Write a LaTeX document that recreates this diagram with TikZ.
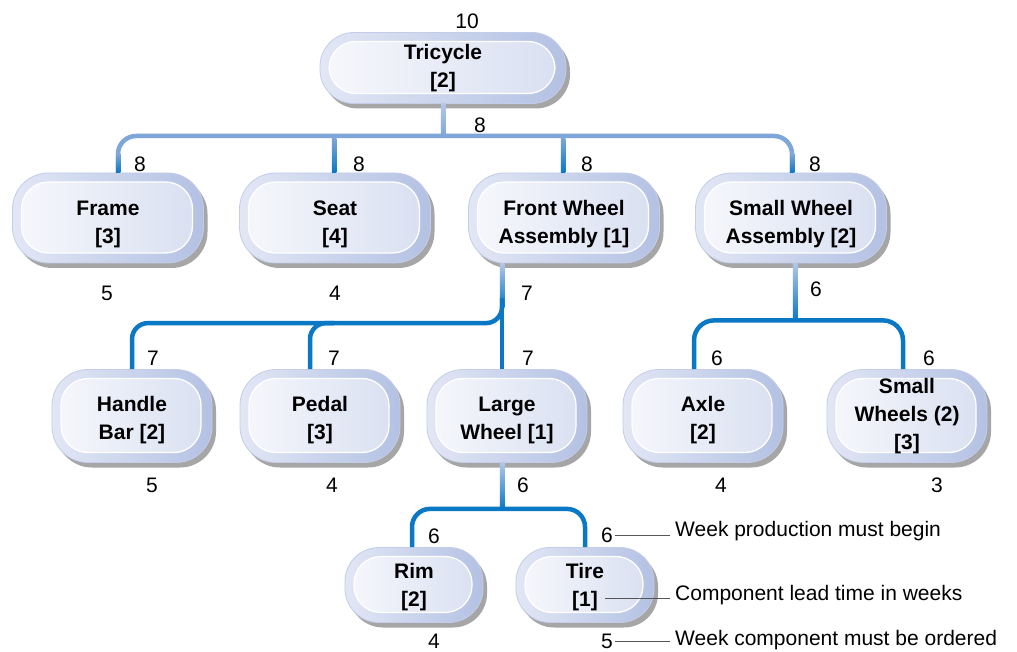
\documentclass[tikz,border=0pt]{standalone}
\usepackage{fontspec}
\setmainfont{Liberation Sans}
\usetikzlibrary{shadows,calc}

% box colours
\definecolor{ringL}{HTML}{E2E7F5}
\definecolor{ringR}{HTML}{B3C1E3}
\definecolor{ringEdge}{HTML}{C3CDE8}
\definecolor{innerL}{HTML}{F7F8FC}
\definecolor{innerR}{HTML}{D8DFF1}
\definecolor{shadowgray}{HTML}{A6A6A6}
% connector colours
\definecolor{linkpale}{HTML}{B2C7E7}
\definecolor{linklight}{HTML}{7EA6D8}
\definecolor{linkdark}{HTML}{0A78C4}
\definecolor{legendgray}{HTML}{555555}

\newcommand\partfont{\fontsize{21pt}{28pt}\selectfont\bfseries}
\newcommand\numfont{\fontsize{21pt}{25pt}\selectfont}
% zero-width strut on a first line: lowers the text block inside its box
\newcommand\dropA{\rule{0pt}{27pt}}
\newcommand\dropB{\rule{0pt}{24pt}}
\newcommand\dropC{\rule{0pt}{19pt}}

\begin{document}
\begin{tikzpicture}[x=1pt,y=1pt,
  part/.style={rectangle, rounded corners=36pt, draw=ringEdge, line width=0.8pt,
    left color=ringL, right color=ringR, align=center, font=\partfont,
    inner sep=0pt, text=black,
    drop shadow={shadow xshift=4pt, shadow yshift=-5pt, fill=shadowgray, opacity=1},
    path picture={\path[left color=innerL, right color=innerR, draw=white,
        line width=1.3pt, rounded corners=27pt]
      ([shift={(9pt,10pt)}]path picture bounding box.south west) rectangle
      ([shift={(-11pt,-9pt)}]path picture bounding box.north east);}},
  top/.style={minimum width=246pt, minimum height=71pt, rounded corners=34pt},
  lvlone/.style={minimum width=191pt, minimum height=90pt},
  lvltwo/.style={minimum width=160pt, minimum height=93pt},
  lvlthree/.style={minimum width=138pt, minimum height=75pt, rounded corners=34pt},
  link/.style={line width=4.5pt},
  num/.style={font=\numfont, inner sep=1.5pt},
  legend/.style={font=\numfont, anchor=base west, inner sep=0pt},
  legline/.style={draw=legendgray, line width=0.7pt, shorten >=5pt}
]
\path[use as bounding box] (0,0) rectangle (1017,-652);
\fill[white] (0,0) rectangle (1017,-652);

% ---------- parts ----------
\node[part, top] (tri) at (443,-68) {Tricycle\\{[2]}};

\node[part, lvlone] (frame) at (108,-218) {\dropA Frame\\{[3]}};
\node[part, lvlone] (seat)  at (335,-218) {\dropA Seat\\{[4]}};
\node[part, lvlone] (fwa)   at (564,-218) {\dropA Front Wheel\\Assembly [1]};
\node[part, lvlone] (swa)   at (791,-218) {\dropA Small Wheel\\Assembly [2]};

\node[part, lvltwo] (hb)  at (132,-416) {\dropB Handle\\Bar [2]};
\node[part, lvltwo] (pd)  at (320,-416) {\dropB Pedal\\{[3]}};
\node[part, lvltwo] (lw)  at (507,-416) {\dropB Large\\Wheel [1]};
\node[part, lvltwo] (ax)  at (703,-416) {\dropB Axle\\{[2]}};
\node[part, lvltwo] (sws) at (907,-416) {Small\\Wheels (2)\\{[3]}};

\node[part, lvlthree] (rim)  at (414,-585) {\dropC Rim\\{[2]}};
\node[part, lvlthree] (tire) at (585,-585) {\dropC Tire\\{[1]}};

% ---------- connector points ----------
\coordinate (bar0) at (443,-136);
\coordinate (d-frame) at ([xshift=10pt]frame.north);
\coordinate (d-seat)  at ([xshift=-1pt]seat.north);
\coordinate (d-fwa)   at ([xshift=-1pt]fwa.north);
\coordinate (d-swa)   at ([xshift=1pt]swa.north);

\coordinate (t-fwa) at ([xshift=-62pt]fwa.south);
\coordinate (bar1)  at ($(t-fwa |- lw.north)+(0,46)$);
\coordinate (d-hb)  at (hb.north);
\coordinate (d-pd)  at ([xshift=-10pt]pd.north);

\coordinate (t-swa) at ([xshift=4pt]swa.south);
\coordinate (bar2)  at ($(t-swa)+(0,-57)$);
\coordinate (d-ax)  at ([xshift=-9pt]ax.north);
\coordinate (d-sws) at ([xshift=-4pt]sws.north);

\coordinate (t-lw) at ([xshift=-5pt]lw.south);
\coordinate (bar3) at ($(t-lw)+(0,-46)$);
\coordinate (d-rim)  at ([xshift=-2pt]rim.north);
\coordinate (d-tire) at (tire.north);

% ---------- connectors: Tricycle ----------
\draw[link, draw=linklight] (tri.south) -- (bar0);
\shade[top color=linkpale, bottom color=linklight]
  ($(tri.south)+(-2.25,0)$) rectangle ($(bar0)+(2.25,-1)$);
\draw[link, draw=linklight, rounded corners=18pt]
  (d-frame) |- (d-swa |- bar0) -- (d-swa);
\draw[link, draw=linklight] (d-seat |- bar0) -- (d-seat);
\draw[link, draw=linklight] (d-fwa |- bar0) -- (d-fwa);
\foreach \d/\s in {d-frame/18, d-seat/2.25, d-fwa/2.25, d-swa/18}
  \shade[top color=linklight, bottom color=linkdark]
    ($(\d |- bar0)+(-2.25,-\s)$) rectangle ($(\d)+(2.25,0)$);

% ---------- connectors: Front Wheel Assembly ----------
\draw[link, draw=linkdark] (t-fwa) -- (t-fwa |- lw.north);
\shade[top color=linkpale, bottom color=linkdark]
  ($(t-fwa)+(-2.25,0)$) rectangle ($(t-fwa)+(2.25,-44)$);
\draw[link, draw=linkdark, rounded corners=16pt]
  ($(bar1)+(0,25)$) |- (d-hb |- bar1) -- (d-hb);
\draw[link, draw=linkdark, rounded corners=16pt]
  ($(d-pd |- bar1)+(24,0)$) -| (d-pd);

% ---------- connectors: Small Wheel Assembly ----------
\draw[link, draw=linkdark] (t-swa) -- (bar2);
\shade[top color=linkpale, bottom color=linkdark]
  ($(t-swa)+(-2.25,0)$) rectangle ($(bar2)+(2.25,0)$);
\draw[link, draw=linkdark, rounded corners=20pt]
  (d-ax) |- (d-sws |- bar2) -- (d-sws);

% ---------- connectors: Large Wheel ----------
\draw[link, draw=linkdark] (t-lw) -- (bar3);
\shade[top color=linkpale, bottom color=linkdark]
  ($(t-lw)+(-2.25,0)$) rectangle ($(bar3)+(2.25,0)$);
\draw[link, draw=linkdark, rounded corners=18pt]
  (d-rim) |- (d-tire |- bar3) -- (d-tire);

% ---------- week numbers ----------
\node[num] (n-tri)   at (467,-21) {10};
\node[num] (n-bar0)  at (480,-125) {8};
\node[num] (n-frame) at (140,-164) {8};
\node[num] (n-seat)  at (359,-164) {8};
\node[num] (n-fwa)   at (587,-164) {8};
\node[num] (n-swa)   at (815,-164) {8};
\node[num] (o-frame) at (107,-293) {5};
\node[num] (o-seat)  at (335,-293) {4};
\node[num] (o-fwa)   at (527,-293) {7};
\node[num] (o-swa)   at (816,-289) {6};

\node[num] (n-hb)  at (153,-358) {7};
\node[num] (n-pd)  at (334,-358) {7};
\node[num] (n-lw)  at (528,-358) {7};
\node[num] (n-ax)  at (717,-358) {6};
\node[num] (n-sws) at (929,-358) {6};
\node[num] (o-hb)  at (152,-485) {5};
\node[num] (o-pd)  at (332,-485) {4};
\node[num] (o-lw)  at (523,-485) {6};
\node[num] (o-ax)  at (721,-485) {4};
\node[num] (o-sws) at (937,-485) {3};

\node[num] (n-rim)  at (434,-536) {6};
\node[num] (n-tire) at (607,-535) {6};
\node[num] (o-rim)  at (434,-641) {4};
\node[num] (o-tire) at (607,-641) {5};

% ---------- legend ----------
\node[legend] (leg1) at (675,-536) {Week production must begin};
\node[legend] (leg2) at (675,-600) {Component lead time in weeks};
\node[legend] (leg3) at (675,-645) {Week component must be ordered};
\coordinate (tirelead) at ([shift={(20pt,-13pt)}]tire.center);
\draw[legline] (n-tire.east) -- (n-tire.east -| leg1.west);
\draw[legline] (tirelead) -- (tirelead -| leg2.west);
\draw[legline] (o-tire.east) -- (o-tire.east -| leg3.west);
\end{tikzpicture}
\end{document}
